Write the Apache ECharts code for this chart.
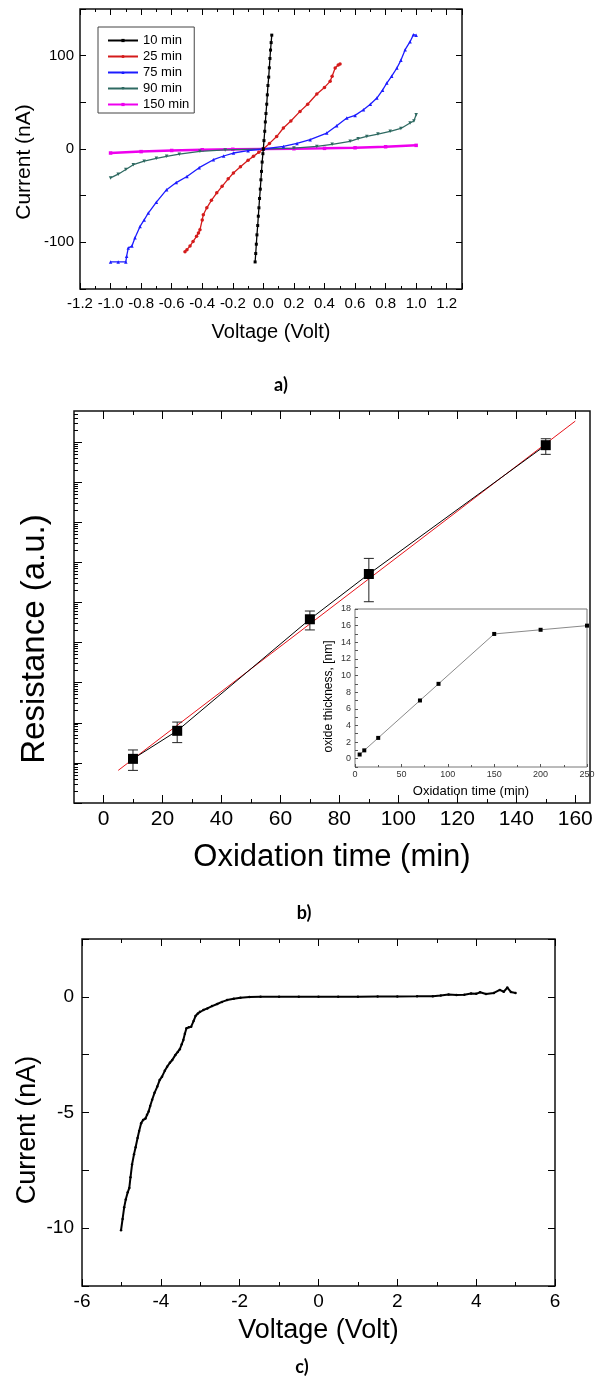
<!DOCTYPE html>
<html>
<head>
<meta charset="utf-8">
<script src="https://cdn.jsdelivr.net/npm/echarts@6.0.0/dist/echarts.min.js"></script>
<style>
html, body { margin: 0; padding: 0; background: #fff; }
#chart-panel { width: 595px; height: 1380px; }
</style>
</head>
<body>
<div id="chart-panel"></div>
<script>
var chart = echarts.init(document.getElementById('chart-panel'));
var font = 'Liberation Sans';

// a) I-V curves, [voltage (V), current (nA)]
var ivNames = ['10 min', '25 min', '75 min', '90 min', '150 min'];
var ivColors = ['#000000', '#d41b1b', '#1c1cff', '#2f6a62', '#ee00ee'];
var ivSymbols = ['rect', 'circle', 'triangle', 'path://M0,0L10,0L5,10Z', 'rect'];
var iv10 = [[-0.054,-121],[-0.050,-112],[-0.046,-102],[-0.042,-92],[-0.037,-82],[-0.033,-72],[-0.029,-63],
    [-0.025,-53],[-0.020,-43],[-0.016,-33],[-0.012,-24],[-0.008,-14],[-0.003,-5],[0,0],[0.004,9],[0.009,19],
    [0.013,29],[0.017,38],[0.022,48],[0.026,58],[0.030,68],[0.035,77],[0.039,87],[0.043,97],[0.047,106],
    [0.051,114],[0.055,122]];
var iv25 = [[-0.513,-110],[-0.50,-108],[-0.48,-104],[-0.46,-99],[-0.437,-93.6],[-0.425,-90],[-0.415,-86.5],
    [-0.40,-76],[-0.393,-70.4],[-0.37,-63],[-0.34,-55],[-0.305,-47],[-0.27,-40],[-0.23,-32],[-0.196,-25.7],
    [-0.15,-19],[-0.10,-12],[-0.065,-7.9],[-0.03,-3.5],[0,0],[0.04,6],[0.087,13.3],[0.131,22.5],[0.18,30],
    [0.24,40.3],[0.29,48],[0.35,58.9],[0.40,66],[0.437,72.5],[0.45,78],[0.47,86.8],[0.49,90],[0.502,91]];
var iv75 = [[-1.0,-121],[-0.95,-121],[-0.90,-121],[-0.895,-115],[-0.884,-106],[-0.86,-104],[-0.84,-95],
    [-0.807,-83],[-0.78,-76],[-0.753,-68.6],[-0.70,-57],[-0.633,-43.6],[-0.57,-36],[-0.50,-29.4],[-0.42,-20],
    [-0.327,-11.5],[-0.26,-7.5],[-0.196,-4.3],[-0.10,-1.8],[0,0],[0.131,2.8],[0.22,6],[0.306,10],[0.415,17.1],
    [0.48,25],[0.546,33.2],[0.60,36],[0.655,42],[0.70,48],[0.743,54.6],[0.78,63],[0.808,70.7],[0.84,78],
    [0.874,86.8],[0.90,95],[0.928,106.4],[0.96,115],[0.982,122.5],[1.0,122]];
var iv90 = [[-1.0,-31],[-0.95,-27],[-0.90,-22],[-0.851,-16.8],[-0.78,-13],[-0.70,-10],[-0.633,-7.9],
    [-0.55,-5.5],[-0.415,-2.5],[-0.25,-1],[0,0],[0.2,1],[0.35,2.8],[0.45,5],[0.568,8.2],[0.62,11],
    [0.677,13.5],[0.75,16],[0.83,18.9],[0.90,22],[0.96,27.9],[0.985,30],[1.0,36.8]];
var iv150 = [[-1.0,-4.3],[-0.8,-2.8],[-0.6,-1.6],[-0.4,-0.8],[-0.2,-0.3],[0,0],[0.2,0.3],[0.4,0.7],
    [0.6,1.3],[0.8,2.4],[1.0,3.9]];
var ivData = [iv10, iv25, iv75, iv90, iv150];

// b) resistance vs oxidation time (log axis, arbitrary units)
var oxTime = [10, 25, 70, 90, 150];
var resistance = [12.6, 63, 3.8e4, 5.1e5, 8.3e8];
var resErrLow = [6.5, 32, 2.06e4, 1.04e5, 4.9e8];
var resErrHigh = [21, 104, 6.1e4, 1.25e6, 1.2e9];
var fitTime = [5, 160];
var fitRes = [6.5, 3.3e9];
var timeMajorTicks = [0, 20, 40, 60, 80, 100, 120, 140, 160];
var timeMinorTicks = [10, 30, 50, 70, 90, 110, 130, 150];
var resDecades = [1, 10, 1e2, 1e3, 1e4, 1e5, 1e6, 1e7, 1e8, 1e9];
var logMinor = [2, 3, 4, 5, 6, 7, 8, 9];
var resMax = 5.9e9;

// inset: oxide thickness vs time
var insetTime = [5, 10, 25, 70, 90, 150, 200, 250];
var thickness = [0.5, 1, 2.5, 7, 9, 15, 15.5, 16];

// c) I-V at high voltage, [voltage (V), current (nA)]
var ivHigh = [[-5.01,-10.09],[-4.97,-9.6],[-4.93,-9.1],[-4.89,-8.76],[-4.84,-8.45],[-4.80,-8.26],[-4.77,-7.8],
    [-4.73,-7.25],[-4.68,-6.8],[-4.64,-6.5],[-4.59,-6.1],[-4.55,-5.8],[-4.50,-5.46],[-4.45,-5.32],[-4.39,-5.26],
    [-4.35,-5.1],[-4.31,-4.96],[-4.27,-4.72],[-4.22,-4.45],[-4.16,-4.15],[-4.09,-3.88],[-4.03,-3.6],[-3.97,-3.45],
    [-3.90,-3.2],[-3.84,-3.02],[-3.77,-2.85],[-3.71,-2.73],[-3.63,-2.51],[-3.57,-2.38],[-3.52,-2.27],[-3.47,-2.05],
    [-3.43,-1.87],[-3.39,-1.6],[-3.35,-1.36],[-3.29,-1.32],[-3.23,-1.29],[-3.17,-1.05],[-3.12,-0.83],[-3.06,-0.72],
    [-3.01,-0.65],[-2.92,-0.57],[-2.82,-0.5],[-2.70,-0.4],[-2.57,-0.31],[-2.45,-0.22],[-2.32,-0.14],[-2.15,-0.08],
    [-1.98,-0.04],[-1.75,-0.01],[-1.47,0],[-1.0,0],[-0.5,0],[0,0],[0.5,0],[1.0,0],[1.5,0.01],[2.0,0.01],
    [2.5,0.02],[2.9,0.03],[3.1,0.06],[3.3,0.1],[3.5,0.08],[3.7,0.09],[3.87,0.14],[4.0,0.13],[4.1,0.2],
    [4.25,0.12],[4.45,0.17],[4.6,0.3],[4.7,0.22],[4.79,0.4],[4.88,0.21],[5.0,0.17]];

// log minor tick positions for the resistance axis
var resMinorTicks = [];
resDecades.forEach(function (d) {
    logMinor.forEach(function (m) {
        if (d * m < resMax) resMinorTicks.push(d * m);
    });
});

var black = '#000';
function tick(len, extra) {
    return Object.assign({ show: true, inside: true, length: len, lineStyle: { color: black, width: 1 } }, extra || {});
}
var noLine = { show: false, onZero: false };
var noLabel = { show: false };
var noSplit = { show: false };
function nameStyle(size, pad) {
    return { fontSize: size, color: black, fontFamily: font, padding: pad || 0 };
}

var option = {
    animation: false,
    backgroundColor: '#fff',
    textStyle: { fontFamily: font, color: black },
    grid: [
        { left: 80, top: 9, width: 382, height: 280, show: true, borderColor: '#111', borderWidth: 1.5, outerBoundsMode: 'none' },
        { left: 74, top: 411, width: 516, height: 392, show: true, borderColor: '#111', borderWidth: 1.5, outerBoundsMode: 'none' },
        { left: 355, top: 609, width: 232, height: 158, show: true, borderColor: '#777', borderWidth: 1, backgroundColor: '#fff', outerBoundsMode: 'none' },
        { left: 82, top: 939, width: 473, height: 347, show: true, borderColor: '#111', borderWidth: 1.5, outerBoundsMode: 'none' }
    ],
    legend: {
        data: ivNames,
        orient: 'vertical',
        left: 98,
        top: 27,
        itemWidth: 30,
        itemHeight: 4,
        itemGap: 3,
        padding: [7, 5, 2, 9],
        borderColor: '#444',
        borderWidth: 1,
        textStyle: { fontSize: 13, fontFamily: font, color: black }
    },
    xAxis: [
        // a) bottom / top
        { gridIndex: 0, type: 'value', position: 'bottom', min: -1.2, max: 1.3, interval: 0.2,
          axisLine: noLine, splitLine: noSplit, axisTick: tick(6),
          minorTick: { show: true, splitNumber: 2, length: 3, lineStyle: { color: black } },
          axisLabel: { fontSize: 15, color: black, fontFamily: font, margin: 7,
              formatter: function (v) { return v > 1.25 ? '' : v.toFixed(1); } },
          name: 'Voltage (Volt)', nameLocation: 'middle', nameGap: 33, nameMoveOverlap: false,
          nameTextStyle: nameStyle(20) },
        { gridIndex: 0, type: 'value', position: 'top', min: -1.2, max: 1.3, interval: 0.2,
          axisLine: noLine, splitLine: noSplit, axisTick: tick(6),
          minorTick: { show: true, splitNumber: 2, length: 3, lineStyle: { color: black } },
          axisLabel: noLabel },
        // b) bottom major / minor, top major / minor
        { gridIndex: 1, type: 'value', position: 'bottom', min: -10, max: 165,
          axisLine: noLine, splitLine: noSplit, axisTick: tick(8, { customValues: timeMajorTicks }),
          axisLabel: { customValues: timeMajorTicks, fontSize: 21, color: black, fontFamily: font, margin: 6 },
          name: 'Oxidation time (min)', nameLocation: 'middle', nameGap: 39, nameMoveOverlap: false,
          nameTextStyle: nameStyle(31) },
        { gridIndex: 1, type: 'value', position: 'bottom', min: -10, max: 165,
          axisLine: noLine, splitLine: noSplit, axisTick: tick(4, { customValues: timeMinorTicks }),
          axisLabel: noLabel },
        { gridIndex: 1, type: 'value', position: 'top', min: -10, max: 165,
          axisLine: noLine, splitLine: noSplit, axisTick: tick(8, { customValues: timeMajorTicks }),
          axisLabel: noLabel },
        { gridIndex: 1, type: 'value', position: 'top', min: -10, max: 165,
          axisLine: noLine, splitLine: noSplit, axisTick: tick(4, { customValues: timeMinorTicks }),
          axisLabel: noLabel },
        // inset
        { gridIndex: 2, type: 'value', position: 'bottom', min: 0, max: 250, interval: 50,
          axisLine: noLine, splitLine: noSplit, axisTick: tick(3, { lineStyle: { color: '#555' } }),
          minorTick: { show: true, splitNumber: 2, length: 2, lineStyle: { color: '#555' } },
          axisLabel: { fontSize: 9, color: '#333', fontFamily: font, margin: 3 },
          name: 'Oxidation time (min)', nameLocation: 'middle', nameGap: 18, nameMoveOverlap: false,
          nameTextStyle: nameStyle(13) },
        // c) bottom / top
        { gridIndex: 3, type: 'value', position: 'bottom', min: -6, max: 6, interval: 2,
          axisLine: noLine, splitLine: noSplit, axisTick: tick(7),
          minorTick: { show: true, splitNumber: 2, length: 4, lineStyle: { color: black } },
          axisLabel: { fontSize: 19, color: black, fontFamily: font, margin: 6 },
          name: 'Voltage (Volt)', nameLocation: 'middle', nameGap: 31, nameMoveOverlap: false,
          nameTextStyle: nameStyle(27) },
        { gridIndex: 3, type: 'value', position: 'top', min: -6, max: 6, interval: 2,
          axisLine: noLine, splitLine: noSplit, axisTick: tick(7),
          minorTick: { show: true, splitNumber: 2, length: 4, lineStyle: { color: black } },
          axisLabel: noLabel }
    ],
    yAxis: [
        // a) left / right
        { gridIndex: 0, type: 'value', position: 'left', min: -150, max: 150, interval: 50,
          axisLine: noLine, splitLine: noSplit, axisTick: tick(6),
          axisLabel: { fontSize: 15, color: black, fontFamily: font, margin: 6,
              formatter: function (v) { return v % 100 === 0 ? String(v) : ''; } },
          name: 'Current (nA)', nameLocation: 'middle', nameGap: 45, nameRotate: 90, nameMoveOverlap: false,
          nameTextStyle: nameStyle(21, [0, 26, 0, 0]) },
        { gridIndex: 0, type: 'value', position: 'right', min: -150, max: 150, interval: 50,
          axisLine: noLine, splitLine: noSplit, axisTick: tick(6), axisLabel: noLabel },
        // b) log axis, decades and minor ticks
        { gridIndex: 1, type: 'log', logBase: 10, position: 'left', min: 1, max: resMax,
          axisLine: noLine, splitLine: noSplit, axisTick: tick(8, { customValues: resDecades }),
          axisLabel: noLabel,
          name: 'Resistance (a.u.)', nameLocation: 'middle', nameGap: 23, nameRotate: 90, nameMoveOverlap: false,
          nameTextStyle: nameStyle(33, [0, 64, 0, 0]) },
        { gridIndex: 1, type: 'log', logBase: 10, position: 'left', min: 1, max: resMax,
          axisLine: noLine, splitLine: noSplit, axisTick: tick(4, { customValues: resMinorTicks }),
          axisLabel: noLabel },
        // inset
        { gridIndex: 2, type: 'value', position: 'left', min: -1, max: 18, interval: 1,
          axisLine: noLine, splitLine: noSplit, axisTick: tick(3, { lineStyle: { color: '#555' } }),
          axisLabel: { fontSize: 9, color: '#333', fontFamily: font, margin: 4,
              formatter: function (v) { return (v >= 0 && v % 2 === 0) ? String(v) : ''; } },
          name: 'oxide thickness, [nm]', nameLocation: 'middle', nameGap: 20, nameRotate: 90, nameMoveOverlap: false,
          nameTextStyle: nameStyle(12, [0, 17, 0, 0]) },
        // c) left / right
        { gridIndex: 3, type: 'value', position: 'left', min: -12.5, max: 2.5, interval: 2.5,
          axisLine: noLine, splitLine: noSplit, axisTick: tick(7),
          axisLabel: { fontSize: 19, color: black, fontFamily: font, margin: 8,
              formatter: function (v) { return v % 5 === 0 ? String(v) : ''; } },
          name: 'Current (nA)', nameLocation: 'middle', nameGap: 41, nameRotate: 90, nameMoveOverlap: false,
          nameTextStyle: nameStyle(27, [0, 35, 0, 0]) },
        { gridIndex: 3, type: 'value', position: 'right', min: -12.5, max: 2.5, interval: 2.5,
          axisLine: noLine, splitLine: noSplit, axisTick: tick(7), axisLabel: noLabel }
    ],
    graphic: [
        { type: 'text', x: 281, y: 385, style: { text: 'a)', font: 'bold 18px Lato', fill: black, align: 'center', verticalAlign: 'middle' } },
        { type: 'text', x: 304, y: 913, style: { text: 'b)', font: 'bold 18px Lato', fill: black, align: 'center', verticalAlign: 'middle' } },
        { type: 'text', x: 302, y: 1367, style: { text: 'c)', font: 'bold 18px Lato', fill: black, align: 'center', verticalAlign: 'middle' } }
    ],
    series: []
};

// a) one line per oxidation time
ivNames.forEach(function (name, i) {
    option.series.push({
        name: name,
        type: 'line',
        xAxisIndex: 0,
        yAxisIndex: 0,
        data: ivData[i],
        symbol: ivSymbols[i],
        symbolSize: i === 0 ? 3 : 3.5,
        lineStyle: { color: ivColors[i], width: i === 4 ? 2.5 : 1.3 },
        itemStyle: { color: ivColors[i] },
        z: 10 - i
    });
});

// b) linear fit (red), measured points with error bars
option.series.push({
    type: 'line',
    xAxisIndex: 2,
    yAxisIndex: 2,
    data: fitTime.map(function (t, i) { return [t, fitRes[i]]; }),
    symbol: 'none',
    lineStyle: { color: '#e8141b', width: 1 },
    z: 2
});
option.series.push({
    type: 'line',
    xAxisIndex: 2,
    yAxisIndex: 2,
    data: oxTime.map(function (t, i) { return [t, resistance[i]]; }),
    symbol: 'rect',
    symbolSize: 10,
    lineStyle: { color: black, width: 1 },
    itemStyle: { color: black },
    z: 4
});
option.series.push({
    type: 'custom',
    xAxisIndex: 2,
    yAxisIndex: 2,
    data: oxTime.map(function (t, i) { return [t, resErrLow[i], resErrHigh[i]]; }),
    encode: { x: 0, y: [1, 2] },
    renderItem: function (params, api) {
        var lo = api.coord([api.value(0), api.value(1)]);
        var hi = api.coord([api.value(0), api.value(2)]);
        var w = 5;
        var st = { stroke: '#222', lineWidth: 1 };
        return {
            type: 'group',
            children: [
                { type: 'line', shape: { x1: lo[0], y1: lo[1], x2: hi[0], y2: hi[1] }, style: st },
                { type: 'line', shape: { x1: lo[0] - w, y1: lo[1], x2: lo[0] + w, y2: lo[1] }, style: st },
                { type: 'line', shape: { x1: hi[0] - w, y1: hi[1], x2: hi[0] + w, y2: hi[1] }, style: st }
            ]
        };
    },
    z: 3
});

// inset
option.series.push({
    type: 'line',
    xAxisIndex: 6,
    yAxisIndex: 4,
    data: insetTime.map(function (t, i) { return [t, thickness[i]]; }),
    symbol: 'rect',
    symbolSize: 4,
    lineStyle: { color: '#8a8a8a', width: 1 },
    itemStyle: { color: black },
    z: 5
});

// c)
option.series.push({
    type: 'line',
    xAxisIndex: 7,
    yAxisIndex: 5,
    data: ivHigh,
    symbol: 'circle',
    symbolSize: 2.5,
    lineStyle: { color: black, width: 2 },
    itemStyle: { color: black }
});

chart.setOption(option);
</script>
</body>
</html>
